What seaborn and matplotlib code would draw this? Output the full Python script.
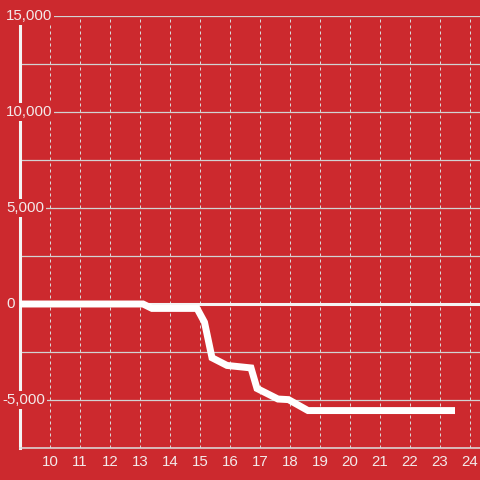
import matplotlib
matplotlib.use("Agg")
import matplotlib.pyplot as plt
import seaborn as sns
import pandas as pd

# ---- data ----
x_vals = [9.0, 13.1, 13.4, 14.9, 15.15, 15.4, 15.9, 16.7, 16.9, 17.6, 17.95, 18.6, 23.5]
y_vals = [0, 0, -230, -230, -950, -2800, -3200, -3330, -4400, -4950, -4980, -5550, -5550]
x_ticks = list(range(10, 25))
x_tick_labels = [str(v) for v in x_ticks]
y_label_values = [15000, 10000, 5000, 0, -5000]
y_label_texts = ["15,000", "10,000", "5,000", "0", "-5,000"]
y_grid_values = [-7500, -5000, -2500, 0, 2500, 5000, 7500, 10000, 12500, 15000]

RED = "#cc292e"
TXT = "#f3eaea"

sns.set_style("white", {"axes.facecolor": RED, "figure.facecolor": RED})
plt.rcParams["font.family"] = ["Liberation Sans", "DejaVu Sans"]

fig = plt.figure(figsize=(4.8, 4.8), dpi=100)
fig.patch.set_facecolor(RED)
ax = fig.add_axes([20 / 480, 32 / 480, 460 / 480, 432 / 480])
ax.set_facecolor(RED)

df = pd.DataFrame({"x": x_vals, "y": y_vals})
line = sns.lineplot(data=df, x="x", y="y", ax=ax, color="white", linewidth=5,
                    zorder=5, estimator=None, sort=False)
for l in ax.get_lines():
    l.set_solid_capstyle("butt")
    l.set_solid_joinstyle("miter")

ax.set_xlim(9, 9 + 460 / 30)
ax.set_ylim(-7500, 15000)

ax.set_xticks(x_ticks)
ax.set_xticklabels(x_tick_labels)
ax.set_yticks(y_grid_values)
ax.set_yticklabels([])
ax.tick_params(axis="both", length=0)
ax.tick_params(axis="x", pad=5, labelsize=10.8, labelcolor=TXT)
ax.set_xlabel("")
ax.set_ylabel("")

ax.set_axisbelow(True)
ax.yaxis.grid(True, color="#d2d2d2", linewidth=0.9)
ax.xaxis.grid(True, color="#d8d8d8", linewidth=0.72, linestyle=(0, (3, 3)))

for s in ["top", "right"]:
    ax.spines[s].set_visible(False)
ax.spines["bottom"].set_color("#dcdcdc")
ax.spines["bottom"].set_linewidth(1.1)
ax.spines["left"].set_color("#f4f4f4")
ax.spines["left"].set_linewidth(2.2)

ax.axhline(0, color="#f4f4f4", linewidth=2.2, zorder=4)

ytrans = ax.get_yaxis_transform()
for val, txt in zip(y_label_values, y_label_texts):
    left_px = 6 - (4 if txt.startswith("-") else 0)
    ax.text((left_px - 20) / 460, val, txt, transform=ytrans, ha="left", va="center",
            fontsize=10.8, color=TXT, zorder=10, clip_on=False,
            bbox=dict(boxstyle="square,pad=0.12", fc=RED, ec="none"))

fig.savefig("out.png", dpi=100, facecolor=RED)
